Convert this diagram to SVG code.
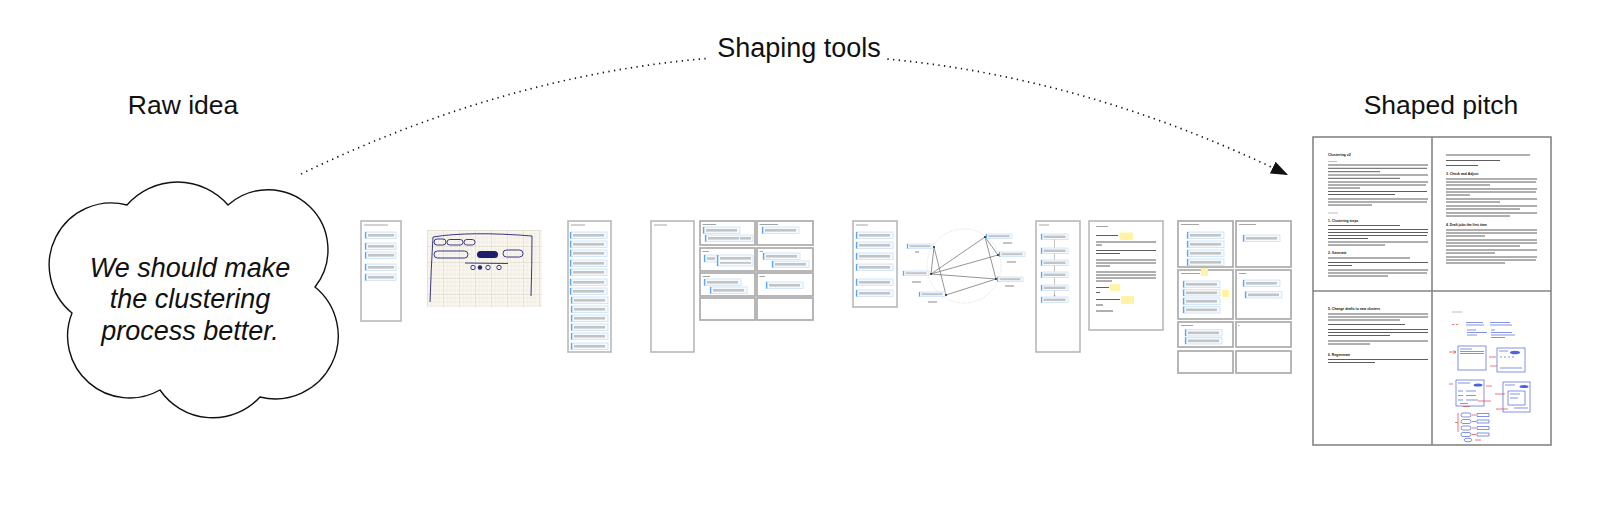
<svg xmlns="http://www.w3.org/2000/svg" xmlns:xlink="http://www.w3.org/1999/xlink" width="1600" height="508" viewBox="0 0 1600 508">
<style>
.lbl{font-family:"Liberation Sans",Arial,sans-serif;font-size:26.5px;fill:#111}
.cl{font-family:"Liberation Sans",Arial,sans-serif;font-size:27px;font-style:italic;fill:#111}
.pg{fill:#fff;stroke:#b8b8b8;stroke-width:1.6}
.cell{fill:#fff;stroke:#ababab;stroke-width:1.7}
.ib{fill:#f5faff;stroke:#cfe5f9;stroke-width:0.9}
.ie{fill:#5ba7ef}
.ig{fill:#c3c3c3}
.tl{stroke:#9a9a9a;stroke-width:0.9}
.tx{stroke:#5e5e5e;stroke-width:1;fill:none}
.txl{stroke:#b5b5b5;stroke-width:0.9;fill:none}
.hd{font-family:"Liberation Sans",Arial,sans-serif;font-weight:bold;font-size:3.4px;fill:#111}
.ink{stroke:#24247a;stroke-width:0.9;fill:none}
.bl{stroke:#4d63d6;stroke-width:0.7;fill:none}
.rd{stroke:#e0413a;stroke-width:0.7;fill:none}
.yl{fill:#fff3a6}
.ed{stroke:#7a7a7a;stroke-width:0.8}
.nd{fill:#222}
.dot{fill:none;stroke:#111;stroke-width:1.7;stroke-dasharray:1.3 4.4}
</style>
<defs>
<marker id="ah" markerUnits="userSpaceOnUse" markerWidth="19" markerHeight="14" refX="17" refY="6.5" orient="auto">
<path d="M0,0 L17,6.5 L0,13 Z" fill="#111"/>
</marker>
<marker id="sa" markerUnits="userSpaceOnUse" markerWidth="3" markerHeight="3" refX="2" refY="1.2" orient="auto">
<path d="M0,0 L2,1.2 L0,2.4 Z" fill="#888"/>
</marker>
<pattern id="grid" width="16" height="16" patternUnits="userSpaceOnUse" x="427" y="230">
<rect width="16" height="16" fill="#f8f6ef"/>
<path d="M4,0V16M8,0V16M12,0V16M0,4H16M0,8H16M0,12H16" stroke="#ebe7da" stroke-width="0.5"/>
<path d="M0.3,0V16M0,0.3H16" stroke="#d8d3c2" stroke-width="0.7"/>
</pattern>
<g id="i31"><rect width="31" height="6.5" class="ib"/><rect width="1.3" height="6.5" class="ie"/><rect x="3" y="2" width="26" height="2.6" class="ig"/></g>
<g id="i37"><rect width="37" height="6.5" class="ib"/><rect width="1.3" height="6.5" class="ie"/><rect x="3" y="2" width="31" height="2.6" class="ig"/></g>
<g id="i27"><rect width="27" height="5.5" class="ib"/><rect width="1.2" height="5.5" class="ie"/><rect x="2.5" y="1.6" width="22" height="2.4" class="ig"/></g>
<g id="i26"><rect width="26" height="4.5" class="ib"/><rect width="1.1" height="4.5" class="ie"/><rect x="2.5" y="1.2" width="21" height="2" class="ig"/></g>
</defs>

<rect width="1600" height="508" fill="#fff"/>

<g id="label-raw-idea"><text class="lbl" x="183" y="114" text-anchor="middle">Raw idea</text></g>
<g id="label-shaped-pitch"><text class="lbl" x="1441" y="114" text-anchor="middle">Shaped pitch</text></g>

<g id="connectors">
<path class="dot" d="M301,174 Q505,75.3 709,58.3"/>
<path class="dot" d="M887.4,59.1 Q1087.8,77.6 1288,175" marker-end="url(#ah)"/>
<text class="lbl" x="799" y="57" text-anchor="middle" style="font-size:27px">Shaping tools</text>
</g>

<g id="cloud">
<path d="M127,205 A67,67 0 0 1 228,205 A60,60 0 0 1 315,287 A63,63 0 0 1 260,397 A64,64 0 0 1 160,390 A62,62 0 0 1 72,313 A62,62 0 0 1 127,205 Z" fill="#fff" stroke="#111" stroke-width="1.4"/>
<text class="cl" x="190" y="277" text-anchor="middle">We should make</text>
<text class="cl" x="190" y="308" text-anchor="middle">the clustering</text>
<text class="cl" x="190" y="340" text-anchor="middle">process better.</text>
</g>

<g id="page-list-short">
<rect class="pg" x="361" y="221" width="40" height="100"/>
<line class="tl" x1="364" y1="225" x2="388" y2="225"/>
<use href="#i31" x="365" y="232"/>
<use href="#i31" x="365" y="243"/>
<use href="#i31" x="365" y="252"/>
<use href="#i31" x="365" y="264"/>
<use href="#i31" x="365" y="274"/>
</g>

<g id="page-sketch">
<rect x="427" y="230" width="115" height="77" fill="url(#grid)"/>
<path class="ink" d="M433,237 Q470,231 532,236 M433,237 Q431,270 430,302 M532,236 Q532,265 531,296"/>
<rect class="ink" x="434" y="239" width="12" height="6" rx="3"/>
<rect class="ink" x="447" y="239.5" width="16" height="5.5" rx="2.7"/>
<rect class="ink" x="464" y="239.5" width="11" height="5.5" rx="2.7"/>
<rect class="ink" x="434" y="251" width="34" height="7" rx="3.5"/>
<rect x="477" y="251" width="21" height="7" rx="3.5" fill="#1e1e6c"/>
<rect class="ink" x="503" y="250" width="20" height="7" rx="3.5"/>
<path class="ink" d="M465,263 L508,263.5"/>
<circle class="ink" cx="473" cy="267.5" r="2.2"/>
<circle cx="480" cy="267.5" r="2.2" fill="#24247a"/>
<circle class="ink" cx="488" cy="267.5" r="2.2"/>
<circle class="ink" cx="499" cy="267.5" r="2.2"/>
</g>

<g id="page-list-long">
<rect class="pg" x="568" y="221" width="43" height="131"/>
<line class="tl" x1="571" y1="225" x2="585" y2="225"/>
<use href="#i37" x="570" y="232"/>
<use href="#i37" x="570" y="241"/>
<use href="#i37" x="570" y="250"/>
<use href="#i37" x="570" y="260"/>
<use href="#i37" x="570" y="269"/>
<use href="#i37" x="570" y="279"/>
<use href="#i37" x="570" y="288"/>
<use href="#i37" x="571" y="297"/>
<use href="#i37" x="571" y="306"/>
<use href="#i37" x="571" y="315"/>
<use href="#i37" x="571" y="324"/>
<use href="#i37" x="571" y="333"/>
<use href="#i37" x="571" y="343"/>
</g>

<g id="page-empty">
<rect class="pg" x="651" y="221" width="43" height="131"/>
<line class="tl" x1="654" y1="225" x2="667" y2="225"/>
</g>

<g id="board-1">
<rect class="cell" x="700" y="221" width="55" height="24"/>
<rect class="cell" x="757" y="221" width="56" height="24"/>
<rect class="cell" x="700" y="248" width="55" height="23"/>
<rect class="cell" x="757" y="248" width="56" height="23"/>
<rect class="cell" x="700" y="273" width="55" height="23"/>
<rect class="cell" x="757" y="273" width="56" height="23"/>
<rect class="cell" x="700" y="298" width="55" height="22"/>
<rect class="cell" x="757" y="298" width="56" height="22"/>
<path class="tl" d="M702.5,224.5H716M759.5,224.5H778M702.5,251.5H709M759.5,251.5H763M702.5,276.5H710M759.5,276.5H765"/>
<use href="#i37" x="703" y="227"/>
<g transform="translate(705,235)"><rect width="48" height="6.5" class="ib"/><rect width="1.3" height="6.5" class="ie"/><rect x="3" y="2" width="31" height="2.6" class="ig"/><rect x="35" y="2" width="11" height="2.6" class="ig"/></g>
<use href="#i37" x="762" y="227"/>
<g transform="translate(704,255)"><rect width="13" height="7" class="ib"/><rect width="1.3" height="7" class="ie"/><rect x="3" y="2.2" width="8" height="2.6" class="ig"/></g>
<g transform="translate(717,255)"><rect width="36" height="11" class="ib"/><rect width="1.3" height="11" class="ie"/><rect x="3" y="2" width="31" height="2.6" class="ig"/><rect x="3" y="7" width="31" height="1.8" class="ig"/></g>
<use href="#i37" x="763" y="253"/>
<use href="#i37" x="772" y="261"/>
<use href="#i37" x="704" y="279"/>
<use href="#i37" x="710" y="287"/>
<use href="#i37" x="766" y="282"/>
</g>

<g id="page-graph">
<rect class="pg" x="853" y="221" width="44" height="86"/>
<line class="tl" x1="856" y1="225" x2="868" y2="225"/>
<use href="#i37" x="856" y="232"/>
<use href="#i37" x="856" y="242"/>
<use href="#i37" x="856" y="253"/>
<use href="#i37" x="856" y="264"/>
<use href="#i37" x="856" y="279"/>
<use href="#i37" x="856" y="290"/>
</g>

<g id="graph">
<circle cx="964" cy="266" r="37" fill="none" stroke="#cfcfcf" stroke-width="0.8" stroke-dasharray="1 1.4"/>
<path class="ed" d="M931,274L934,247M931,274L985,237M931,274L998,255M931,274L996,279M934,247L946,295M946,295L996,279M985,237L998,255M985,237L996,279"/>
<use href="#i26" x="907" y="244"/>
<use href="#i26" x="986" y="234"/>
<use href="#i26" x="999" y="252"/>
<use href="#i26" x="997" y="277"/>
<use href="#i26" x="919" y="292"/>
<use href="#i26" x="903" y="271"/>
<rect class="ig" x="915" y="251" width="4" height="2"/>
<rect class="ig" x="1003" y="242" width="9" height="2"/>
<rect class="ig" x="1007" y="261" width="9" height="2"/>
<rect class="ig" x="1005" y="285" width="9" height="2"/>
<rect class="ig" x="928" y="301" width="9" height="2"/>
<rect class="ig" x="912" y="281" width="9" height="2"/>
<circle class="nd" cx="934" cy="247" r="1"/>
<circle class="nd" cx="985" cy="237" r="1"/>
<circle class="nd" cx="998" cy="255" r="1"/>
<circle class="nd" cx="996" cy="279" r="1"/>
<circle class="nd" cx="946" cy="295" r="1"/>
<circle class="nd" cx="931" cy="274" r="1"/>
</g>

<g id="page-flow">
<rect class="pg" x="1036" y="221" width="44" height="131"/>
<line class="tl" x1="1039" y1="225" x2="1049" y2="225"/>
<use href="#i27" x="1041" y="234"/>
<use href="#i27" x="1041" y="248"/>
<use href="#i27" x="1041" y="260"/>
<use href="#i27" x="1041" y="272"/>
<use href="#i27" x="1041" y="285"/>
<use href="#i27" x="1041" y="297"/>
<path stroke="#999" stroke-width="0.6" d="M1054.5,239.5V247.5M1054.5,253.5V259.5M1054.5,265.5V271.5M1054.5,277.5V284.5M1054.5,290.5V296.5" marker-end="url(#sa)"/>
</g>

<g id="page-doc-notes">
<rect class="pg" x="1089" y="221" width="74" height="109"/>
<line class="tl" x1="1096" y1="226.5" x2="1108" y2="226.5"/>
<path class="tx" stroke-width="1.1" d="M1096,235.5H1118M1096,287.5H1109M1096,299.5H1120M1096,311H1113"/>
<rect class="yl" x="1120" y="232.5" width="13" height="7.5"/>
<rect class="yl" x="1110" y="284" width="10" height="7"/>
<rect class="yl" x="1121" y="296" width="13" height="8"/>
<path class="tx" stroke="#8a8a8a" d="M1096,242H1156M1096,245H1102M1096,250.5H1156M1096,253.5H1120M1096,260H1156M1096,263H1156M1096,266H1110M1096,272H1156M1096,275H1156M1096,278H1156M1096,281H1112M1096,292.5H1100M1096,305H1103"/>
</g>

<g id="board-2">
<rect class="cell" x="1178" y="221" width="55" height="46"/>
<rect class="cell" x="1236" y="221" width="55" height="46"/>
<rect class="cell" x="1178" y="270" width="55" height="49"/>
<rect class="cell" x="1236" y="270" width="55" height="49"/>
<rect class="cell" x="1178" y="322" width="55" height="25"/>
<rect class="cell" x="1236" y="322" width="55" height="25"/>
<rect class="cell" x="1178" y="351" width="55" height="22"/>
<rect class="cell" x="1236" y="351" width="55" height="22"/>
<path class="tl" d="M1181,224.5H1199M1239,224.5H1256M1181,273.5H1200M1239,273.5H1246M1181,325.5H1193M1238,325.5H1239.5"/>
<use href="#i37" x="1187" y="232"/>
<use href="#i37" x="1187" y="241"/>
<use href="#i37" x="1187" y="250"/>
<use href="#i37" x="1187" y="259"/>
<use href="#i37" x="1243" y="235"/>
<rect class="yl" x="1201" y="268" width="7" height="8"/>
<use href="#i37" x="1183" y="281"/>
<use href="#i37" x="1183" y="289.5"/>
<use href="#i37" x="1183" y="298"/>
<use href="#i37" x="1183" y="306.5"/>
<rect class="yl" x="1222" y="290" width="7" height="7"/>
<use href="#i37" x="1243" y="280"/>
<use href="#i37" x="1245" y="291.5"/>
<use href="#i37" x="1185" y="329.5"/>
<use href="#i37" x="1185" y="337.5"/>
</g>

<g id="shaped-pitch-doc">
<rect x="1313" y="137" width="238" height="308" fill="#fff" stroke="#858585" stroke-width="1.6"/>
<path d="M1432,137V445M1313,291H1551" stroke="#858585" stroke-width="1.6"/>
<text class="hd" x="1328" y="155.5" style="font-size:3.6px">Clustering v2</text>
<path class="txl" d="M1328,161.5H1337M1328,213H1338"/>
<path class="tx" d="M1328,165H1428M1328,168.3H1427M1328,171.7H1380M1328,175H1428M1328,178.3H1400M1328,182H1428M1328,185H1426M1328,188H1360M1328,191.5H1427M1328,194.5H1395M1328,199H1428M1328,202H1427M1328,205H1372"/>
<text class="hd" x="1328" y="221.5">1. Clustering steps</text>
<path class="tx" d="M1328,225.5H1400M1328,229.5H1428M1328,232.5H1428M1328,235.5H1427M1328,238.5H1368M1328,242H1428M1328,245H1385"/>
<text class="hd" x="1328" y="254">2. Generate</text>
<path class="tx" d="M1328,258H1410M1328,262.5H1428M1328,265.5H1352M1328,270H1428M1328,273H1427M1328,276H1388"/>

<path class="tx" d="M1446,155H1530M1446,160.5H1500M1446,165.5H1478"/>
<text class="hd" x="1446" y="174.5">3. Check and Adjust</text>
<path class="tx" d="M1446,179H1537M1446,182H1536M1446,185H1490M1446,189H1537M1446,192H1536M1446,195H1470M1446,199H1537M1446,202H1500M1446,206H1537M1446,209H1520M1446,213H1537M1446,216H1510"/>
<text class="hd" x="1446" y="225.5">4. Draft jobs the first time</text>
<path class="tx" d="M1446,230H1537M1446,233H1537M1446,236H1485M1446,240H1537M1446,243H1537M1446,246H1520M1446,250H1537M1446,253H1495M1446,257H1537M1446,260H1536M1446,263H1505"/>

<text class="hd" x="1328" y="310">5. Change drafts to new clusters</text>
<path class="tx" d="M1328,314H1428M1328,317H1428M1328,320H1400M1328,324.5H1405M1328,329.5H1428M1328,332.5H1428M1328,335.5H1390M1328,341H1428M1328,344H1370"/>
<text class="hd" x="1328" y="355.5">6. Regenerate</text>
<path class="tx" d="M1328,359.5H1428M1328,362.5H1375"/>

<path class="txl" d="M1452,312H1462"/>
<path class="rd" d="M1452,324.5h2.5M1456,324.5h2"/>
<path class="bl" d="M1466,322.5H1483M1466,325H1484M1490,322.5H1510M1490,325H1512M1467,330H1476M1467,332.5H1487M1467,335H1477M1491,330H1495M1491,332.5H1512M1491,335H1515M1491,337.5H1505"/>
<rect class="bl" x="1458" y="346" width="28" height="24"/>
<path class="bl" d="M1460,349H1472M1460,351.5H1484M1460,353.5H1484"/>
<path class="rd" d="M1449,352H1456M1453.5,350.5L1456,352L1453.5,353.5"/>
<rect class="bl" x="1497" y="348" width="28" height="24"/>
<ellipse cx="1515" cy="352.5" rx="5" ry="1.8" fill="#4d63d6"/>
<path class="bl" d="M1499,351H1508M1500,357H1502M1504,357H1506M1508,357H1510M1512,357H1514M1500,368H1522"/>
<path class="rd" d="M1489,357H1496M1490,366H1497"/>
<rect class="bl" x="1456" y="380" width="28" height="26"/>
<ellipse cx="1478" cy="385" rx="4.5" ry="1.6" fill="#4d63d6"/>
<path class="bl" d="M1458,383H1470M1458,391H1463M1466,391H1476M1458,395.5H1463M1466,395.5H1476M1458,400H1463M1466,400H1478M1460,403.5H1468"/>
<path class="rd" d="M1449,384H1453M1486,386H1492M1478,401H1491M1463,406.5H1470"/>
<rect class="bl" x="1503" y="382" width="27" height="30"/>
<ellipse cx="1524" cy="386.5" rx="4.5" ry="1.6" fill="#4d63d6"/>
<path class="bl" d="M1505,385H1515M1508,391H1525V405H1508ZM1510,394H1520M1510,398H1518M1514,408H1528"/>
<path class="rd" d="M1495,394H1505M1496,409H1508"/>
<path class="rd" d="M1458,413V432M1458,422.5H1455"/>
<rect class="bl" x="1461" y="413" width="10" height="4" rx="2"/>
<rect class="bl" x="1461" y="419.5" width="10" height="4" rx="2"/>
<rect class="bl" x="1461" y="426" width="10" height="4" rx="2"/>
<rect class="bl" x="1461" y="432.5" width="10" height="4" rx="2"/>
<path class="rd" d="M1472,415H1476M1472,421.5H1476M1472,428H1476M1472,434.5H1476"/>
<path class="bl" d="M1477,413.5H1489V416.5H1477ZM1477,420H1489V423H1477ZM1477,426.5H1489V429.5H1477ZM1477,433H1489V436H1477Z"/>
<ellipse class="bl" cx="1468" cy="440" rx="4" ry="1.8"/>
<path class="rd" d="M1475,440H1481"/>
</g>
</svg>
